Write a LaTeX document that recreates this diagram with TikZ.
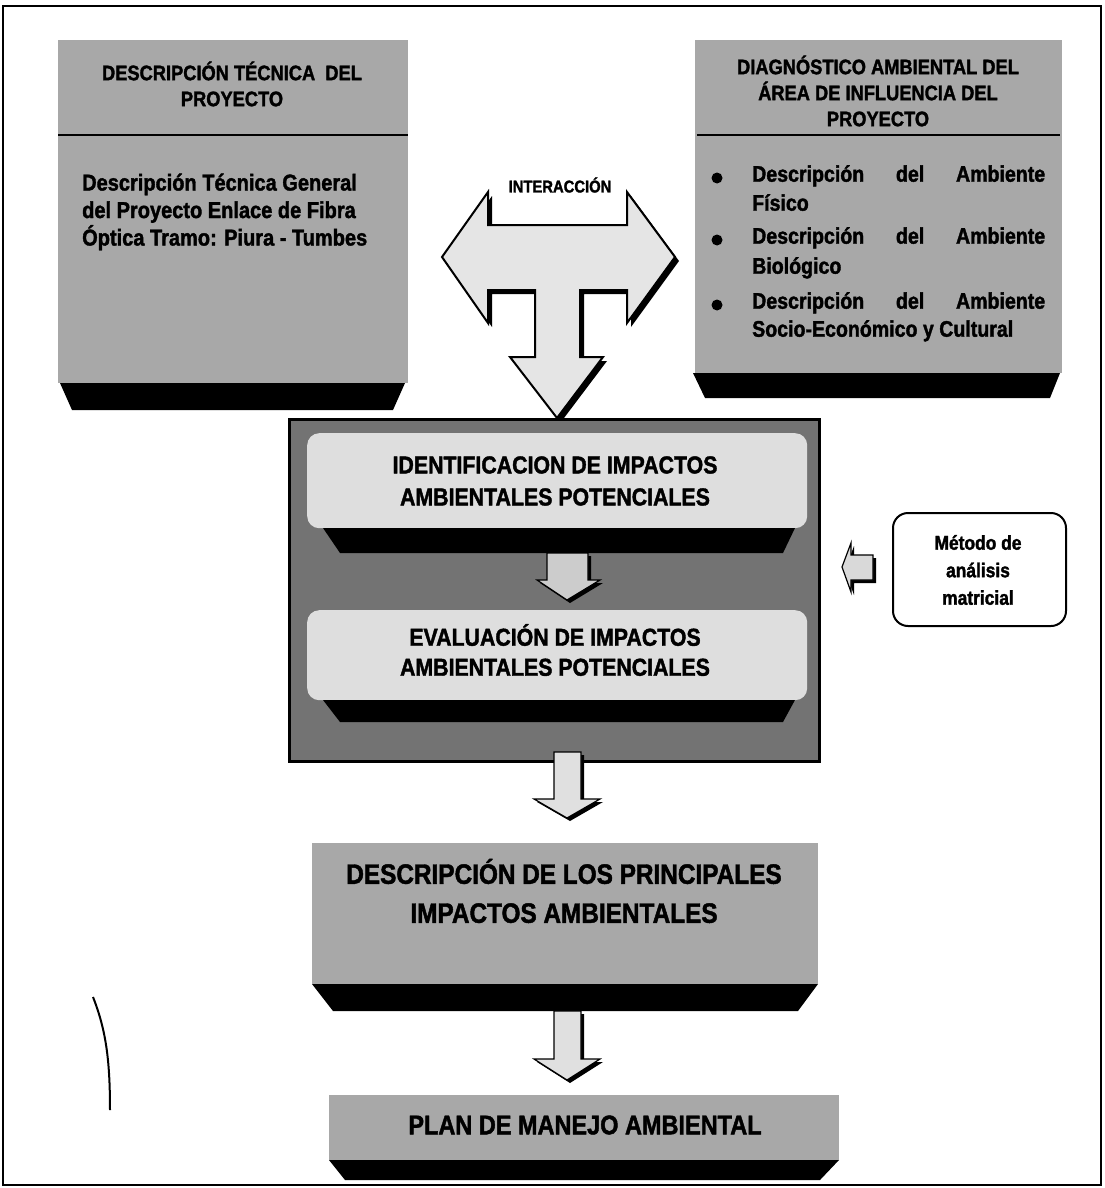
\documentclass[tikz,border=0pt]{standalone}
\usepackage{fontspec}
\setmainfont{Liberation Sans}
\newfontfamily\cond[FakeStretch=0.87,FakeBold=1.6]{Liberation Sans}
\usetikzlibrary{calc}
\begin{document}
\begin{tikzpicture}[x=1pt,y=-1pt,
  panel/.style={fill=black!34,draw=none},
  base/.style={fill=black,draw=none},
  inner/.style={fill=black!13,draw=none,rounded corners=12pt},
  blockarrow/.style={fill=black!10,draw=black,line width=2pt,line join=miter},
  txt/.style={font=\cond\bfseries,inner sep=0pt,align=center},
  hd/.style={txt,font=\cond\bfseries\fontsize{21}{26}\selectfont},
  bd/.style={txt,font=\cond\bfseries\fontsize{23}{27.5}\selectfont,align=left},
  ct/.style={txt,font=\cond\bfseries\fontsize{24.5}{32}\selectfont},
  big/.style={txt,font=\cond\bfseries\fontsize{28}{39}\selectfont},
]
\useasboundingbox (0,0) rectangle (1104,1188);
\fill[white] (0,0) rectangle (1104,1188);
% outer frame
\draw[line width=1.2pt] (3,6) rectangle (1101,1185);

% ---------- left top panel
\node[panel,anchor=north west,minimum width=350pt,minimum height=343pt,inner sep=0pt] (lp) at (58,40) {};
\fill[base] (60,383) -- (405,383) -- (393,410) -- (72,410) -- cycle;
\draw[line width=1.5pt] (58,135) -- (408,135);
\node[hd] (lpt) at (232,84) {DESCRIPCIÓN TÉCNICA\ \ DEL\\PROYECTO};
\node[bd,anchor=west] (lpb) at (82,212) {Descripción Técnica General\\del Proyecto Enlace de Fibra\\Óptica Tramo: Piura - Tumbes};

% ---------- right top panel
\node[panel,anchor=north west,minimum width=367pt,minimum height=333pt,inner sep=0pt] (rp) at (695,40) {};
\fill[base] (693,373) -- (1060,373) -- (1050,398) -- (705,398) -- cycle;
\draw[line width=1.5pt] (697,135) -- (1060,135);
\node[hd] (rpt) at (878,91) {DIAGNÓSTICO AMBIENTAL DEL\\ÁREA DE INFLUENCIA DEL\\PROYECTO};
\fill (717,178) circle (5.5pt);
\fill (717,240) circle (5.5pt);
\fill (717,305) circle (5.5pt);
\node[txt,font=\cond\bfseries\fontsize{22.5}{29}\selectfont,align=left,anchor=north west] (b1) at (752,165) {\makebox[293pt][s]{Descripción del Ambiente}\\Físico};
\node[txt,font=\cond\bfseries\fontsize{22.5}{30}\selectfont,align=left,anchor=north west] (b2) at (752,227) {\makebox[293pt][s]{Descripción del Ambiente}\\Biológico};
\node[txt,font=\cond\bfseries\fontsize{22.5}{28}\selectfont,align=left,anchor=north west] (b3) at (752,292) {\makebox[293pt][s]{Descripción del Ambiente}\\Socio-Económico y Cultural};

% ---------- interaction arrow
\node[txt,font=\cond\bfseries\fontsize{17}{20}\selectfont] (inter) at (560,185) {INTERACCIÓN};
\begin{scope}[shift={(4,4)}]
\fill[black] (442,257) -- (488,192) -- (488,225) -- (627,225) -- (627,192) -- (675,257)
  -- (627,323) -- (627,290) -- (580,290) -- (580,357) -- (603,357) -- (557,418)
  -- (510,357) -- (535,357) -- (535,290) -- (488,290) -- (488,323) -- cycle;
\end{scope}
\draw[blockarrow] (442,257) -- (488,192) -- (488,225) -- (627,225) -- (627,192) -- (675,257)
  -- (627,323) -- (627,290) -- (580,290) -- (580,357) -- (603,357) -- (557,418)
  -- (510,357) -- (535,357) -- (535,290) -- (488,290) -- (488,323) -- cycle;

% ---------- central box
\node[fill=black!55,draw=black,line width=3pt,anchor=north west,minimum width=530pt,minimum height=342pt,inner sep=0pt] (cb) at (288,418) {};
\node[inner,anchor=north west,minimum width=500pt,minimum height=95pt,inner sep=0pt] (id) at (307,433) {};
\fill[base] (323,528) -- (795,528) -- (783,553) -- (340,553) -- cycle;
\node[ct] (idt) at (555,481) {IDENTIFICACION DE IMPACTOS\\AMBIENTALES POTENCIALES};
\node[inner,anchor=north west,minimum width=500pt,minimum height=90pt,inner sep=0pt] (ev) at (307,610) {};
\fill[base] (323,700) -- (795,700) -- (783,722) -- (340,722) -- cycle;
\node[ct,font=\cond\bfseries\fontsize{24.5}{30}\selectfont] (evt) at (555,650) {EVALUACIÓN DE IMPACTOS\\AMBIENTALES POTENCIALES};
% small arrow between
\begin{scope}[shift={(3,3)}]
\fill[black] (547,553) -- (588,553) -- (588,580) -- (600,580) -- (567,600) -- (537,580) -- (547,580) -- cycle;
\end{scope}
\draw[blockarrow,fill=black!20,line width=1.2pt] (547,553) -- (588,553) -- (588,580) -- (600,580) -- (567,600) -- (537,580) -- (547,580) -- cycle;

% ---------- metodo box
\node[draw=black,line width=2pt,rounded corners=15pt,fill=white,anchor=north west,minimum width=173pt,minimum height=113pt,inner sep=0pt] (met) at (892,512) {};
\node[txt,font=\cond\bfseries\fontsize{20}{27.5}\selectfont] (mett) at (978,570) {Método de\\análisis\\matricial};
\begin{scope}[shift={(3,3)}]
\fill[black] (842,567) -- (851,543) -- (851,555) -- (873,555) -- (873,580) -- (851,580) -- (851,592) -- cycle;
\end{scope}
\draw[blockarrow,fill=black!15,line width=1.2pt] (842,567) -- (851,543) -- (851,555) -- (873,555) -- (873,580) -- (851,580) -- (851,592) -- cycle;

% ---------- arrow 1
\begin{scope}[shift={(3,3)}]
\fill[black] (554,752) -- (581,752) -- (581,799) -- (600,799) -- (567,818) -- (534,799) -- (554,799) -- cycle;
\end{scope}
\draw[blockarrow,fill=black!12,line width=1.2pt] (554,752) -- (581,752) -- (581,799) -- (600,799) -- (567,818) -- (534,799) -- (554,799) -- cycle;

% ---------- descripcion box
\node[panel,anchor=north west,minimum width=506pt,minimum height=141pt,inner sep=0pt] (dp) at (312,843) {};
\fill[base] (312,984) -- (818,984) -- (798,1011) -- (333,1011) -- cycle;
\node[big] (dpt) at (564,891) {DESCRIPCIÓN DE LOS PRINCIPALES\\IMPACTOS AMBIENTALES};

% ---------- arrow 2
\begin{scope}[shift={(3,3)}]
\fill[black] (554,1011) -- (581,1011) -- (581,1059) -- (600,1059) -- (567,1080) -- (534,1059) -- (554,1059) -- cycle;
\end{scope}
\draw[blockarrow,fill=black!12,line width=1.2pt] (554,1011) -- (581,1011) -- (581,1059) -- (600,1059) -- (567,1080) -- (534,1059) -- (554,1059) -- cycle;

% ---------- plan box
\node[panel,anchor=north west,minimum width=510pt,minimum height=65pt,inner sep=0pt] (pp) at (329,1095) {};
\fill[base] (329,1160) -- (839,1160) -- (820,1180) -- (345,1180) -- cycle;
\node[txt,font=\cond\bfseries\fontsize{27}{30}\selectfont] (ppt) at (585,1125) {PLAN DE MANEJO AMBIENTAL};

% stray mark
\draw[line width=2pt] (93,997) .. controls (106,1030) and (110,1060) .. (110,1110);
\end{tikzpicture}
\end{document}
